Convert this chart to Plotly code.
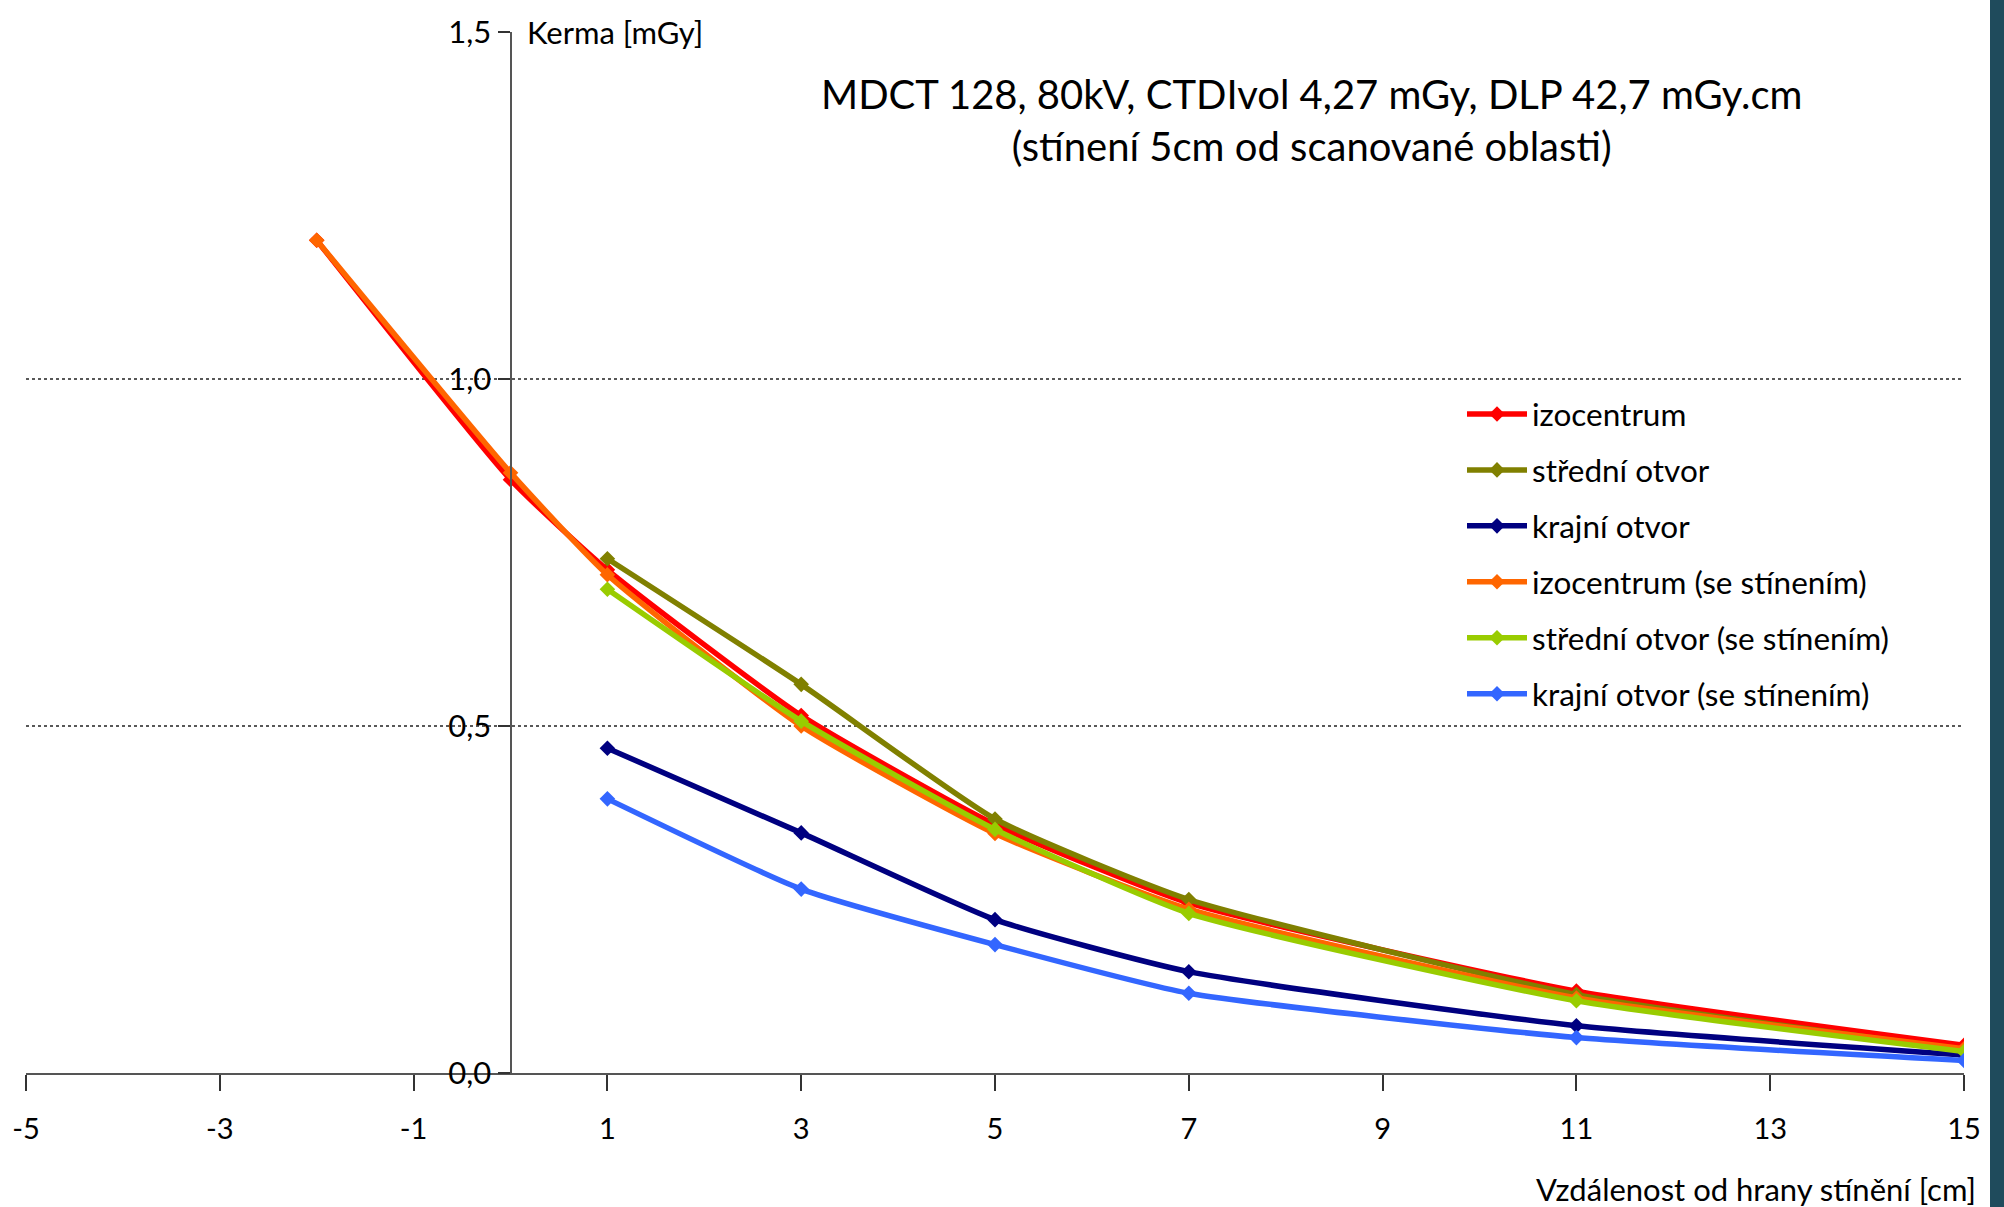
import plotly.graph_objects as go

# ---- data ----
x_full = [-2, 0, 1, 3, 5, 7, 11, 15]
x_part = [1, 3, 5, 7, 11, 15]

izocentrum = [1.20, 0.855, 0.725, 0.515, 0.358, 0.245, 0.118, 0.040]
stredni_otvor = [0.741, 0.560, 0.366, 0.250, 0.113, 0.033]
krajni_otvor = [0.468, 0.346, 0.221, 0.146, 0.068, 0.026]
izocentrum_st = [1.20, 0.865, 0.718, 0.500, 0.345, 0.236, 0.108, 0.035]
stredni_otvor_st = [0.697, 0.507, 0.351, 0.230, 0.104, 0.031]
krajni_otvor_st = [0.395, 0.265, 0.185, 0.115, 0.051, 0.018]

names = ["izocentrum", "střední otvor", "krajní otvor",
         "izocentrum (se stínením)", "střední otvor (se stínením)",
         "krajní otvor (se stínením)"]
colors = ["#FF0000", "#808000", "#000080", "#FF6600", "#99CC00", "#3366FF"]

x_ticks = [-5, -3, -1, 1, 3, 5, 7, 9, 11, 13, 15]
x_tick_text = ["-5", "-3", "-1", "1", "3", "5", "7", "9", "11", "13", "15"]
y_ticks = [0.0, 0.5, 1.0, 1.5]
y_tick_text = ["0,0", "0,5", "1,0", "1,5"]
grid_vals = [0.5, 1.0]

title_lines = ["MDCT 128, 80kV, CTDIvol 4,27 mGy, DLP 42,7 mGy.cm",
               "(stínení 5cm od scanované oblasti)"]

FONT = "Lato"

series = [
    (x_full, izocentrum),
    (x_part, stredni_otvor),
    (x_part, krajni_otvor),
    (x_full, izocentrum_st),
    (x_part, stredni_otvor_st),
    (x_part, krajni_otvor_st),
]

fig = go.Figure()
for i, ((xs, ys), name, col) in enumerate(zip(series, names, colors)):
    fig.add_trace(go.Scatter(
        x=xs, y=ys, name=name, mode="lines+markers",
        line=dict(color=col, width=5.5, shape="spline", smoothing=0.5),
        marker=dict(symbol="diamond", size=12, color=col),
        legendgroup=f"g{i}",
    ))

W, H = 2004, 1207
ml, mr, mt, mb = 26, 40, 26, 134
pw = W - ml - mr
ph = H - mt - mb

for g in grid_vals:
    fig.add_shape(type="line", xref="paper", yref="y", x0=0.0, x1=1.0,
                  y0=g, y1=g, line=dict(color="#222222", width=1.5, dash="dot"),
                  layer="below")

# dark slide edge strip on the right
fig.add_shape(type="rect", xref="paper", yref="paper",
              x0=(1990 - ml) / pw, x1=(W - ml + 5) / pw, y0=-0.2, y1=1.1,
              fillcolor="#1f4b5c", line=dict(width=0), layer="above")

fig.add_annotation(text="<br>".join(title_lines), xref="paper", yref="paper",
                   x=(1312 - ml) / pw, y=1 - (115 - mt) / ph,
                   xanchor="center", yanchor="middle",
                   showarrow=False, align="center",
                   font=dict(family=FONT, size=40, color="#000000"))

fig.add_annotation(text="Kerma [mGy]", xref="x", yref="paper",
                   x=0, y=1.0, xanchor="left", yanchor="middle", xshift=14,
                   showarrow=False, font=dict(family=FONT, size=31, color="#000000"))

fig.add_annotation(text="Vzdálenost od hrany stínění [cm]", xref="paper", yref="paper",
                   x=(1978 - ml) / pw, y=1 - (1190 - mt) / ph,
                   xanchor="right", yanchor="middle",
                   showarrow=False, font=dict(family=FONT, size=31, color="#000000"))

fig.update_layout(
    width=W, height=H,
    margin=dict(l=ml, r=mr, t=mt, b=mb),
    paper_bgcolor="white", plot_bgcolor="white",
    font=dict(family=FONT, size=28, color="#000000"),
    xaxis=dict(range=[-5, 15], tickvals=x_ticks, ticktext=x_tick_text,
               showgrid=False, zeroline=False,
               showline=True, linecolor="#555555", linewidth=2,
               ticks="outside", ticklen=16, tickwidth=1.5, tickcolor="#333333",
               ticklabelstandoff=13, anchor="y",
               tickfont=dict(family=FONT, size=29)),
    yaxis=dict(range=[0, 1.5], tickvals=y_ticks, ticktext=y_tick_text,
               showgrid=False, zeroline=False, showline=True, linecolor="#555555",
               linewidth=2, ticks="outside", ticklen=12, tickwidth=1.5,
               tickcolor="#333333", anchor="free", position=0.25,
               tickfont=dict(family=FONT, size=31)),
    legend=dict(x=(1462 - ml) / pw, y=1 - (383 - mt) / ph,
                xanchor="left", yanchor="top", bgcolor="rgba(0,0,0,0)",
                font=dict(family=FONT, size=31.5), tracegroupgap=12,
                itemwidth=60),
    showlegend=True,
)

fig.write_html("out.html")
